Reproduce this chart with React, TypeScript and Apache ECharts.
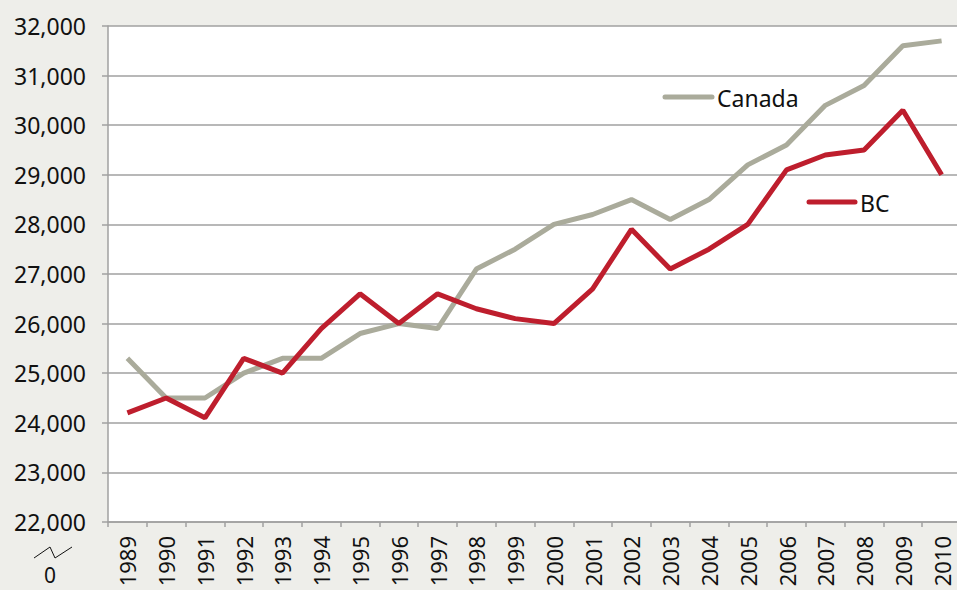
import React, { useEffect, useRef } from "react";
import * as echarts from "echarts";

const years = ["1989","1990","1991","1992","1993","1994","1995","1996","1997","1998","1999","2000","2001","2002","2003","2004","2005","2006","2007","2008","2009","2010"];
const canada = [25300,24500,24500,25000,25300,25300,25800,26000,25900,27100,27500,28000,28200,28500,28100,28500,29200,29600,30400,30800,31600,31700];
const bc = [24200,24500,24100,25300,25000,25900,26600,26000,26600,26300,26100,26000,26700,27900,27100,27500,28000,29100,29400,29500,30300,29000];
const yMin = 22000;
const yMax = 32000;
const yStep = 1000;

const FONT = "Noto Sans";
const CANADA_COLOR = "#aaab9b";
const BC_COLOR = "#be1e2d";

export default function App() {
  const ref = useRef<HTMLDivElement>(null);
  useEffect(() => {
    const chart = echarts.init(ref.current!, null, { renderer: "svg" });
    chart.setOption({
      animation: false,
      backgroundColor: "#eeeeea",
      textStyle: { fontFamily: FONT },
      grid: {
        left: 108, top: 26, width: 853, height: 496,
        outerBoundsMode: "none", containLabel: false,
        show: true, backgroundColor: "#ffffff", borderWidth: 0,
      },
      xAxis: {
        type: "category",
        data: years,
        boundaryGap: true,
        axisLine: { lineStyle: { color: "#a0a0a0", width: 1.5 } },
        axisTick: { show: true, length: 5, interval: 0, lineStyle: { color: "#a0a0a0", width: 1.5 } },
        axisLabel: { rotate: 90, interval: 0, fontSize: 22, color: "#111", margin: 14, fontFamily: FONT },
      },
      yAxis: {
        type: "value",
        min: yMin, max: yMax, interval: yStep,
        axisLine: { show: true, lineStyle: { color: "#a0a0a0", width: 1.5 } },
        axisTick: { show: true, length: 6, lineStyle: { color: "#a0a0a0", width: 1.5 } },
        splitLine: { lineStyle: { color: "#a0a0a0", width: 1.5 } },
        axisLabel: {
          fontSize: 23, color: "#111", margin: 22, fontFamily: FONT,
          formatter: (v: number) => v.toLocaleString("en-US"),
        },
      },
      series: [
        { name: "Canada", type: "line", data: canada, showSymbol: false, lineStyle: { color: CANADA_COLOR, width: 5 }, itemStyle: { color: CANADA_COLOR } },
        { name: "BC", type: "line", data: bc, showSymbol: false, lineStyle: { color: BC_COLOR, width: 5 }, itemStyle: { color: BC_COLOR } },
      ],
      graphic: [
        { type: "line", shape: { x1: 665, y1: 97, x2: 712, y2: 97 }, style: { stroke: CANADA_COLOR, lineWidth: 5, lineCap: "round" } },
        { type: "text", x: 717, y: 98, style: { text: "Canada", font: `23px "${FONT}"`, fill: "#111", textVerticalAlign: "middle" } },
        { type: "line", shape: { x1: 809, y1: 202, x2: 855, y2: 202 }, style: { stroke: BC_COLOR, lineWidth: 5, lineCap: "round" } },
        { type: "text", x: 860, y: 203, style: { text: "BC", font: `23px "${FONT}"`, fill: "#111", textVerticalAlign: "middle" } },
        { type: "polyline", shape: { points: [[34, 558], [50, 547], [55, 558], [72, 547]] }, style: { stroke: "#111", lineWidth: 1, fill: "none" } },
        { type: "text", x: 50, y: 585, style: { text: "0", font: `21px "${FONT}"`, fill: "#111", textAlign: "center", textVerticalAlign: "bottom" } },
      ],
    });
    return () => chart.dispose();
  }, []);
  return <div ref={ref} style={{ position: "fixed", left: 0, top: 0, width: 957, height: 590 }} />;
}
